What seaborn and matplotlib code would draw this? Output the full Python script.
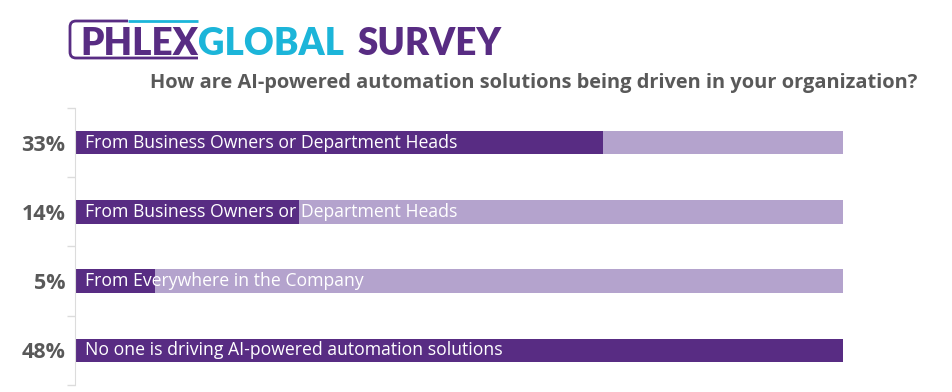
import pandas as pd
import matplotlib.pyplot as plt
import seaborn as sns
from matplotlib.path import Path
from matplotlib.patches import PathPatch

# Données du sondage
shares = [33, 14, 5, 48]
share_labels = ['33%', '14%', '5%', '48%']
answers = [
    'From Business Owners or Department Heads',
    'From Business Owners or Department Heads',
    'From Everywhere in the Company',
    'No one is driving AI-powered automation solutions',
]

dark = '#582C83'
light = '#B4A3CD'
cyan = '#1CB5D9'
grey = '#595959'

sns.set_style('white')
plt.rcParams['font.family'] = ['Open Sans', 'DejaVu Sans']

W, H = 952, 392


def fx(px):
    return px / W


def fy(py):
    return 1 - py / H


df = pd.DataFrame({'Part': share_labels, 'Valeur': shares})
df['Fond'] = max(shares)

fig = plt.figure(figsize=(W / 100, H / 100), dpi=100)
ax = fig.add_axes([fx(75), fy(385), 768 / W, 277 / H])

sns.barplot(data=df, x='Fond', y='Part', orient='h', color=light,
            width=0.34, saturation=1, linewidth=0, ax=ax)
sns.barplot(data=df, x='Valeur', y='Part', orient='h', color=dark,
            width=0.34, saturation=1, linewidth=0, ax=ax)

ax.set_xlim(0, max(shares))
ax.set_ylim(len(shares) - 0.5, -0.5)
ax.set_xlabel('')
ax.set_ylabel('')
ax.set_xticks([])

# Étiquettes des pourcentages
ax.tick_params(axis='y', which='major', left=False, length=0, pad=7)
for t in ax.get_yticklabels():
    t.set_fontsize(15.5)
    t.set_fontweight('bold')
    t.set_color(grey)
ax.set_yticks([i - 0.5 for i in range(len(shares) + 1)], minor=True)
ax.tick_params(axis='y', which='minor', left=True, length=6, color='#dcdcdc', width=1)

for s in ['top', 'right', 'bottom']:
    ax.spines[s].set_visible(False)
ax.spines['left'].set_color('#dcdcdc')

# Texte dans les barres
for i, txt in enumerate(answers):
    ax.text(0.6, i, txt, color='white', fontsize=12.7, va='center', ha='left')

# En-tête : mots placés l'un après l'autre
fig.canvas.draw()
renderer = fig.canvas.get_renderer()
x = fx(80)
for word, col, gap in [('PHLEX', dark, 0), ('GLOBAL', cyan, 14), ('SURVEY', dark, 0)]:
    t = fig.text(x, fy(55), word, color=col, fontsize=26.5, fontweight='heavy',
                 family=['Lato', 'DejaVu Sans'], va='baseline')
    bb = t.get_window_extent(renderer)
    x = fx(bb.x1 + gap)

# Crochet du logo
verts = [(fx(128), fy(21)), (fx(76), fy(21)), (fx(70), fy(21)), (fx(70), fy(27)),
         (fx(70), fy(52)), (fx(70), fy(58)), (fx(76), fy(58)), (fx(198), fy(58))]
codes = [Path.MOVETO, Path.LINETO, Path.CURVE3, Path.CURVE3,
         Path.LINETO, Path.CURVE3, Path.CURVE3, Path.LINETO]
fig.add_artist(PathPatch(Path(verts, codes), fill=False, edgecolor=dark, lw=2,
                         transform=fig.transFigure))
fig.add_artist(PathPatch(Path([(fx(128), fy(21)), (fx(198), fy(21))]), fill=False,
                         edgecolor=cyan, lw=2, transform=fig.transFigure))

fig.text(fx(917), fy(83),
         'How are AI-powered automation solutions being driven in your organization?',
         color=grey, fontsize=14.4, fontweight='bold', ha='right', va='center')

plt.savefig('out.png', dpi=100)
